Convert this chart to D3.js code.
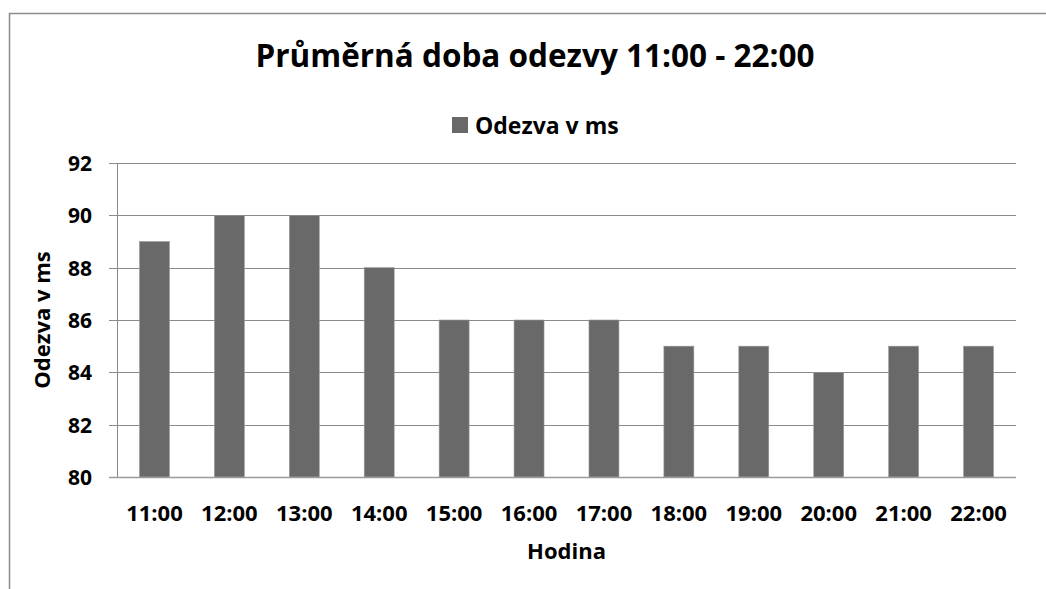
<!DOCTYPE html>
<html>
<head>
<meta charset="utf-8">
<script src="https://cdn.jsdelivr.net/npm/d3@7"></script>
<style>
  html, body { margin: 0; padding: 0; background: #fff; }
  svg text { font-family: "Open Sans", "Noto Sans", sans-serif; font-weight: bold; fill: #000; }
</style>
</head>
<body>
<svg id="chart" width="1046" height="589"></svg>
<script>
// data
const hours = ["11:00", "12:00", "13:00", "14:00", "15:00", "16:00",
  "17:00", "18:00", "19:00", "20:00", "21:00", "22:00"];
const odezva = [89, 90, 90, 88, 86, 86, 86, 85, 85, 84, 85, 85];
const yTicks = [80, 82, 84, 86, 88, 90, 92];

const BAR_COLOR = "#696969";
const GRID_COLOR = "#8a8a8a";

var svg = d3.select("#chart");

// outer frame (right and bottom run off the page)
svg.append("rect")
  .attr("x", 9.5).attr("y", 13.5)
  .attr("width", 1100).attr("height", 700)
  .style("fill", "none")
  .style("stroke", "#8c8c8c")
  .style("stroke-width", 1.5);

const plot = { left: 117, right: 1016, top: 163, bottom: 477 };

var x = d3.scaleBand()
  .domain(hours)
  .range([plot.left, plot.right])
  .paddingInner(0.6)
  .paddingOuter(0.3);

var y = d3.scaleLinear()
  .domain([80, 92])
  .range([plot.bottom, plot.top]);

// gridlines + tick marks on the left
const g = svg.append("g");
g.selectAll("line.grid")
  .data(yTicks)
  .enter()
  .append("line")
  .attr("class", "grid")
  .attr("x1", plot.left - 8)
  .attr("x2", plot.right)
  .attr("y1", (d) => Math.round(y(d)) + 0.5)
  .attr("y2", (d) => Math.round(y(d)) + 0.5)
  .style("stroke", GRID_COLOR)
  .style("stroke-width", 1);

// y axis line
g.append("line")
  .attr("x1", plot.left + 0.5).attr("x2", plot.left + 0.5)
  .attr("y1", plot.top).attr("y2", plot.bottom)
  .style("stroke", GRID_COLOR);

// bars
g.selectAll("rect.bar")
  .data(odezva)
  .enter()
  .append("rect")
  .attr("class", "bar")
  .attr("x", (d, i) => x(hours[i]))
  .attr("y", (d) => y(d))
  .attr("width", x.bandwidth())
  .attr("height", (d) => y(80) - y(d))
  .style("fill", BAR_COLOR)
  .style("stroke", "#9a9a9a")
  .style("stroke-width", 0.6);

// x axis line drawn over the bars
g.append("line")
  .attr("x1", plot.left - 8).attr("x2", plot.right)
  .attr("y1", plot.bottom + 0.5).attr("y2", plot.bottom + 0.5)
  .style("stroke", "#9a9a9a")
  .style("stroke-width", 1.5);

// y tick labels
g.selectAll("text.ytick")
  .data(yTicks)
  .enter()
  .append("text")
  .attr("class", "ytick")
  .attr("x", 92)
  .attr("y", (d) => y(d) + 8)
  .attr("text-anchor", "end")
  .style("font-size", "21px")
  .text((d) => d);

// x tick labels
g.selectAll("text.xtick")
  .data(hours)
  .enter()
  .append("text")
  .attr("class", "xtick")
  .attr("x", (d) => x(d) + x.bandwidth() / 2)
  .attr("y", 521)
  .attr("text-anchor", "middle")
  .style("font-size", "22px")
  .text((d) => d);

// title
svg.append("text")
  .attr("x", 535)
  .attr("y", 67)
  .attr("text-anchor", "middle")
  .style("font-size", "31.5px")
  .text("Průměrná doba odezvy 11:00 - 22:00");

// legend
svg.append("rect")
  .attr("x", 452).attr("y", 117)
  .attr("width", 16).attr("height", 16)
  .style("fill", BAR_COLOR);
svg.append("text")
  .attr("x", 475)
  .attr("y", 134)
  .style("font-size", "23px")
  .text("Odezva v ms");

// axis titles
svg.append("text")
  .attr("transform", `translate(50, ${(plot.top + plot.bottom) / 2}) rotate(-90)`)
  .attr("text-anchor", "middle")
  .style("font-size", "22px")
  .text("Odezva v ms");

svg.append("text")
  .attr("x", (plot.left + plot.right) / 2)
  .attr("y", 559)
  .attr("text-anchor", "middle")
  .style("font-size", "22px")
  .text("Hodina");
</script>
</body>
</html>
